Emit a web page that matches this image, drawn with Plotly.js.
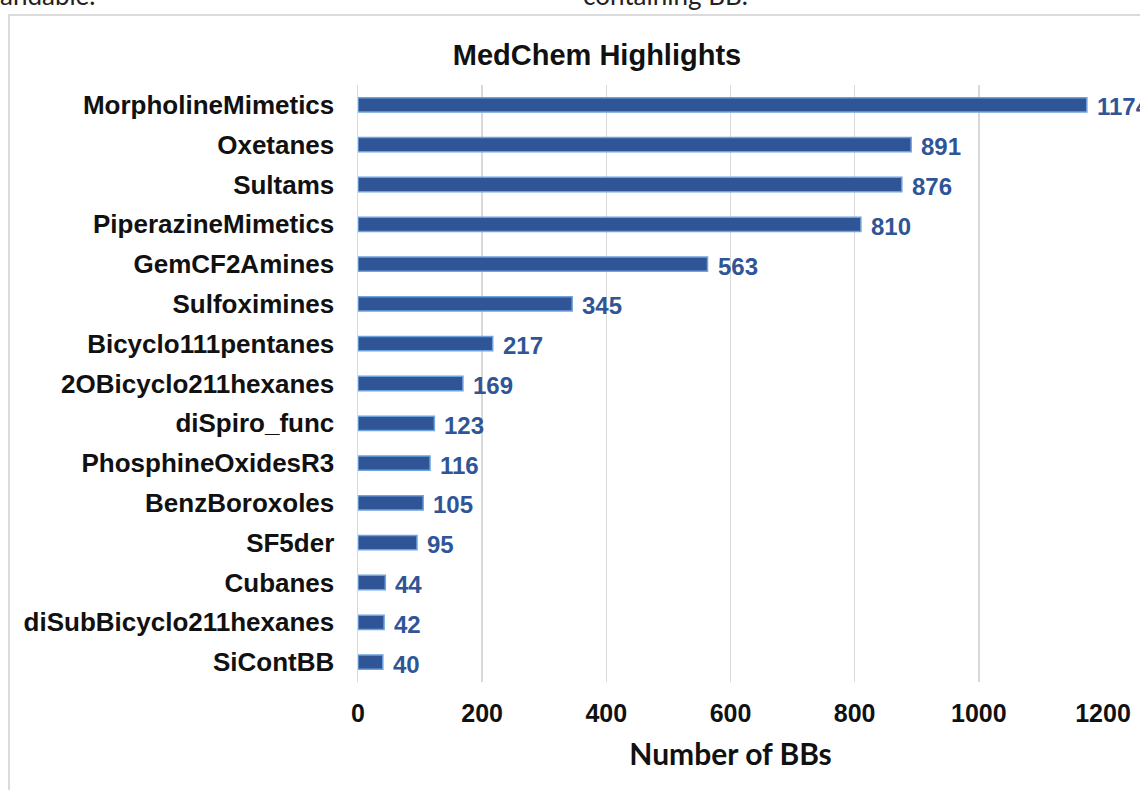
<!DOCTYPE html>
<html><head><meta charset="utf-8">
<script src="https://cdn.plot.ly/plotly-3.0.1.min.js"></script>
<style>html,body{margin:0;padding:0;background:#fff;}#chart{width:1140px;height:790px;}</style>
</head><body><div id="chart"></div>
<script>
const categories = ["MorpholineMimetics","Oxetanes","Sultams","PiperazineMimetics","GemCF2Amines","Sulfoximines","Bicyclo111pentanes","2OBicyclo211hexanes","diSpiro_func","PhosphineOxidesR3","BenzBoroxoles","SF5der","Cubanes","diSubBicyclo211hexanes","SiContBB"];
const counts = [1174,891,876,810,563,345,217,169,123,116,105,95,44,42,40];
const xTicks = [0,200,400,600,800,1000,1200];

const L=358, R=1103, T=85, B=682, W=1140, H=790;
const px = p => (p-L)/(R-L);
const py = p => (B-p)/(B-T);
const ARIAL = 'Arial, Liberation Sans, sans-serif';

const trace = {
  type:'bar', orientation:'h', x:counts, y:categories, width:0.36,
  marker:{color:'#2f5597', line:{color:'#6fa3dc', width:1.5}},
  hoverinfo:'x+y'
};
const annotations = categories.map((c,i)=>({
  x:counts[i], y:c, xref:'x', yref:'y', text:String(counts[i]), showarrow:false,
  xanchor:'left', yanchor:'middle', xshift:8, yshift:-2,
  font:{family:ARIAL, size:24, color:'#2f5597', weight:'bold'}
}));
annotations.push({xref:'paper', yref:'paper', x:px(-2), y:py(13), xanchor:'left', yanchor:'bottom', showarrow:false,
  text:'andable.', font:{family:'Lato, sans-serif', size:26, color:'#222'}});
annotations.push({xref:'paper', yref:'paper', x:px(581), y:py(13), xanchor:'left', yanchor:'bottom', showarrow:false,
  text:'containing BB.', font:{family:'Lato, sans-serif', size:26, color:'#222'}});

const layout = {
  width:W, height:H, margin:{l:L, r:W-R, t:T, b:H-B},
  paper_bgcolor:'#fff', plot_bgcolor:'#fff', showlegend:false,
  title:{text:'<b>MedChem Highlights</b>', x:597/W, xref:'container', xanchor:'center', y:1-55/H, yref:'container', yanchor:'middle',
    font:{family:ARIAL, size:29, color:'#111'}},
  xaxis:{range:[0,1200], tickvals:xTicks, ticktext:xTicks.map(String), showgrid:true, gridcolor:'#d9d9d9', gridwidth:1.5,
    zeroline:false, showline:false, ticks:'', ticklabelstandoff:14,
    tickfont:{family:ARIAL, size:25, color:'#111', weight:'bold'},
    title:{text:'<b>Number of BBs</b>', standoff:17, font:{family:'Lato, sans-serif', size:30, color:'#111'}}},
  yaxis:{autorange:'reversed', showgrid:false, zeroline:false, showline:true, linecolor:'#d9d9d9', linewidth:1.5,
    ticks:'', ticklabelstandoff:17,
    tickfont:{family:ARIAL, size:26, color:'#111', weight:'bold'}},
  annotations:annotations,
  shapes:[{type:'rect', xref:'paper', yref:'paper', x0:px(9), x1:px(1160), y0:py(800), y1:py(15),
    line:{color:'#d0d0d0', width:1.5}, fillcolor:'rgba(0,0,0,0)', layer:'below'}]
};
Plotly.newPlot('chart',[trace],layout,{displayModeBar:false, staticPlot:true});
</script></body></html>
